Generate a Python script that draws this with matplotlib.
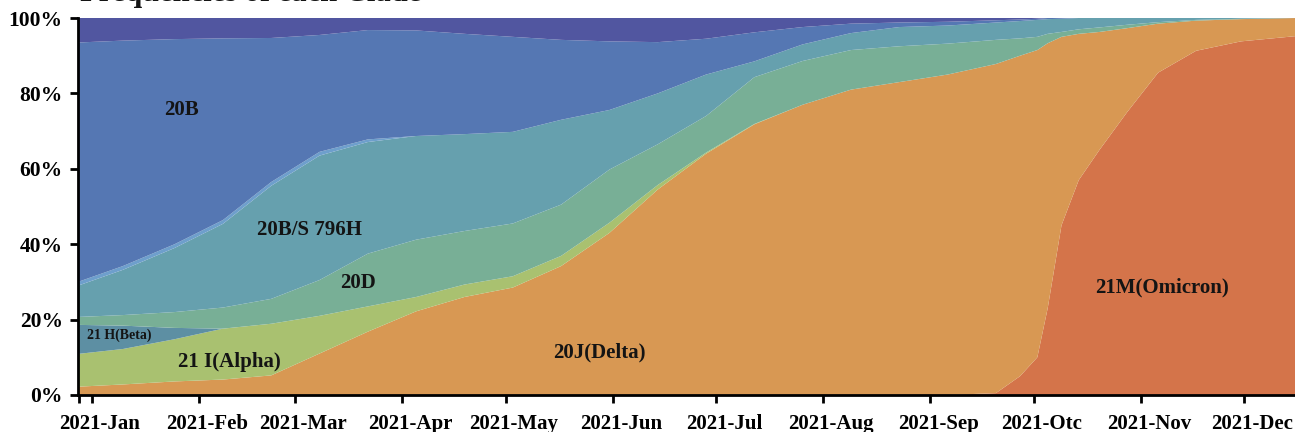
import matplotlib
matplotlib.use("Agg")
import matplotlib.pyplot as plt
import matplotlib.dates as mdates
import matplotlib.transforms as mtransforms
import numpy as np
import datetime as dt

# ---------------- data ----------------
dates = ["2020-12-28", "2021-01-10", "2021-01-25", "2021-02-08", "2021-02-22",
         "2021-03-08", "2021-03-22", "2021-04-05", "2021-04-19", "2021-05-03",
         "2021-05-17", "2021-05-31", "2021-06-14", "2021-06-28", "2021-07-12",
         "2021-07-26", "2021-08-09", "2021-08-23", "2021-09-06", "2021-09-20",
         "2021-09-27", "2021-10-02", "2021-10-05", "2021-10-09", "2021-10-14",
         "2021-10-20", "2021-10-28", "2021-11-06", "2021-11-17", "2021-11-30",
         "2021-12-16"]

omicron = [0, 0, 0, 0, 0, 0, 0, 0, 0, 0, 0, 0, 0, 0, 0, 0, 0, 0, 0, 0.5,
           5, 10, 23, 45, 57, 65, 75, 85.5, 91.3, 93.8, 95.2]
delta = [2.2, 2.8, 3.6, 4.1, 5.2, 11.0, 16.8, 22.2, 26.0, 28.5, 34.2, 43.0, 54.5,
         64.0, 71.8, 77.0, 81.0, 83.0, 85.0, 87.3, 85.0, 81.5, 70.3, 50.0, 38.8,
         31.3, 22.3, 13.0, 8.0, 5.9, 4.8]
alpha = [8.7, 9.4, 11.2, 13.5, 13.7, 10.0, 6.7, 3.8, 3.3, 3.0, 2.7, 2.7, 1.2, 0.3,
         0.1, 0, 0, 0, 0, 0, 0, 0, 0, 0, 0, 0, 0, 0, 0, 0, 0]
beta = [7.7, 6.2, 3.0, 0, 0, 0, 0, 0, 0, 0, 0, 0, 0, 0, 0, 0, 0, 0, 0, 0, 0, 0,
        0, 0, 0, 0, 0, 0, 0, 0, 0]
c20d = [2.1, 2.8, 4.2, 5.6, 6.6, 9.5, 14.0, 15.2, 14.2, 14.0, 13.6, 14.1, 10.8,
        9.7, 12.4, 11.6, 10.5, 9.5, 8.2, 6.4, 4.6, 3.5, 2.5, 1.3, 1.2, 1.2, 0.9,
        0.4, 0.2, 0.1, 0]
c20bs = [8.3, 12.0, 17.0, 22.2, 30.0, 33.0, 29.6, 27.5, 25.7, 24.3, 22.5, 15.8,
         13.5, 11.0, 4.2, 4.4, 4.5, 5.1, 4.8, 4.6, 4.6, 4.5, 3.9, 3.5, 3.0, 2.5,
         1.8, 1.1, 0.5, 0.2, 0]
other = [1.0, 1.0, 1.0, 1.0, 1.0, 1.0, 0.7, 0.0, 0, 0, 0, 0, 0, 0, 0, 0, 0, 0, 0,
         0, 0, 0, 0, 0, 0, 0, 0, 0, 0, 0, 0]
c20b = [63.5, 59.8, 54.4, 48.2, 38.2, 31.0, 29.0, 28.0, 26.6, 25.2, 21.2, 18.2,
        13.6, 9.5, 7.7, 4.6, 2.5, 1.2, 1.0, 0.6, 0.4, 0.3, 0.3, 0.2, 0, 0, 0, 0,
        0, 0, 0]
top = [6.5, 6.0, 5.6, 5.4, 5.3, 4.5, 3.2, 3.3, 4.2, 5.0, 5.8, 6.2, 6.4, 5.5, 3.8,
       2.4, 1.5, 1.2, 1.0, 0.6, 0.4, 0.2, 0, 0, 0, 0, 0, 0, 0, 0, 0]

month_labels = ["2021-Jan", "2021-Feb", "2021-Mar", "2021-Apr", "2021-May",
                "2021-Jun", "2021-Jul", "2021-Aug", "2021-Sep", "2021-Otc",
                "2021-Nov", "2021-Dec"]
y_labels = ["0%", "20%", "40%", "60%", "80%", "100%"]

colors = ["#D4744A", "#D89853", "#A9C170", "#5D8FA3", "#78AF96",
          "#66A0AE", "#6E9FCC", "#5577B3", "#5156A0"]

# ---------------- plot ----------------
FONT = "Liberation Serif"
plt.rcParams["font.family"] = [FONT, "DejaVu Serif"]

fig = plt.figure(figsize=(12.95, 4.32), dpi=100)
ax = fig.add_axes([78 / 1295, 1 - 395 / 432, 1 - 78 / 1295, (395 - 18) / 432])

x = mdates.date2num([dt.datetime.strptime(d, "%Y-%m-%d") for d in dates])
ax.stackplot(x, omicron, delta, alpha, beta, c20d, c20bs, other, c20b, top,
             colors=colors, linewidth=0, antialiased=True)

ax.set_xlim(mdates.date2num(dt.datetime(2020, 12, 28)),
            mdates.date2num(dt.datetime(2021, 12, 15, 16)))
ax.set_ylim(0, 100)

ticks = mdates.date2num([dt.datetime(2021, m, 1) for m in range(1, 13)])
ax.set_xticks(ticks)
ax.set_xticklabels(month_labels)
ax.set_xticks([mdates.date2num(dt.datetime(2020, 12, 28, 6))], minor=True)
ax.set_yticks([0, 20, 40, 60, 80, 100])
ax.set_yticklabels(y_labels)

for s in ["top", "right"]:
    ax.spines[s].set_visible(False)
for s in ["left", "bottom"]:
    ax.spines[s].set_linewidth(2)
    ax.spines[s].set_color("black")

ax.tick_params(axis="both", which="both", direction="out", length=6, width=2,
               colors="black")
ax.tick_params(axis="x", pad=8)
ax.tick_params(axis="y", pad=5)
for lab in ax.get_xticklabels():
    lab.set_fontsize(15)
    lab.set_fontweight("bold")
    lab.set_transform(lab.get_transform() +
                      mtransforms.ScaledTranslation(8 / 100, 0, fig.dpi_scale_trans))
for lab in ax.get_yticklabels():
    lab.set_fontsize(15.5)
    lab.set_fontweight("bold")

def d(y, m, day):
    return mdates.date2num(dt.datetime(y, m, day))

txt = dict(ha="center", va="center", fontweight="bold", color="#141414")
ax.text(d(2021, 1, 27), 75.6, "20B", fontsize=15, **txt)
ax.text(d(2021, 3, 5), 43.8, "20B/S 796H", fontsize=15, **txt)
ax.text(d(2021, 3, 19), 29.7, "20D", fontsize=15, **txt)
ax.text(d(2021, 1, 9), 15.9, "21 H(Beta)", fontsize=10, **txt)
ax.text(d(2021, 2, 10), 8.8, "21 I(Alpha)", fontsize=15, **txt)
ax.text(d(2021, 5, 28), 11.4, "20J(Delta)", fontsize=15, **txt)
ax.text(d(2021, 11, 7), 28.6, "21M(Omicron)", fontsize=15, **txt)

fig.text(80 / 1295, 1 - 0.5 / 432, "Frequencies of each Clade", fontsize=22,
         fontweight="bold", ha="left", va="baseline", color="#141414")

fig.savefig("out.png", dpi=100)
